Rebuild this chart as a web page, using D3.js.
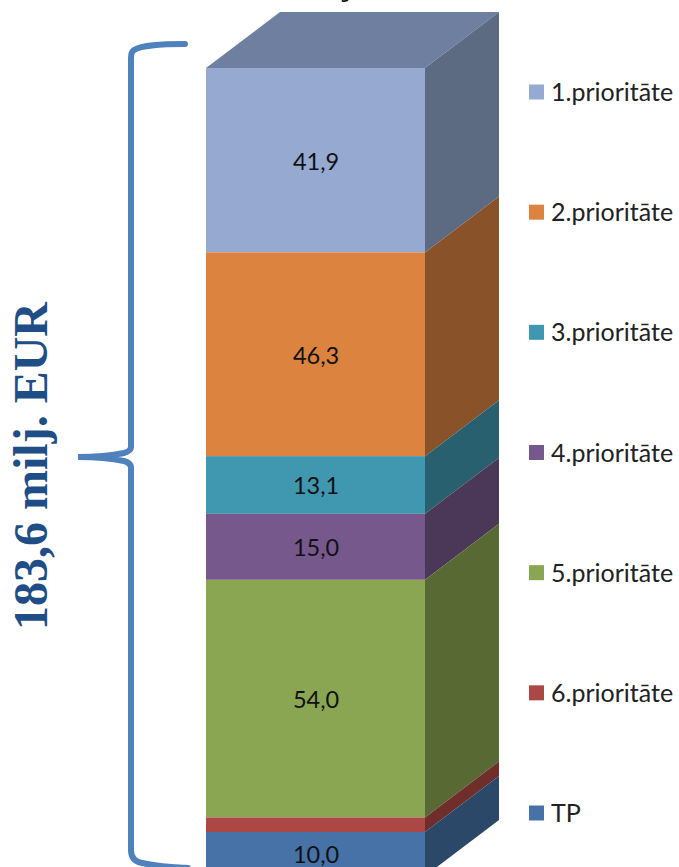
<!DOCTYPE html>
<html>
<head>
<meta charset="utf-8">
<style>
  html, body { margin: 0; padding: 0; background: #fff; overflow: hidden; }
  svg { display: block; }
</style>
</head>
<body>
<svg id="chart"></svg>
<script src="https://d3js.org/d3.v7.min.js"></script>
<script>
  const categories = ['1.prioritāte', '2.prioritāte', '3.prioritāte', '4.prioritāte', '5.prioritāte', '6.prioritāte', 'TP'];
  const values = [41.9, 46.3, 13.1, 15.0, 54.0, 3.3, 10.0];
  const labels = ['41,9', '46,3', '13,1', '15,0', '54,0', '', '10,0'];
  const frontColors = ['#95a9d1', '#db833f', '#4097b0', '#77588d', '#8aa652', '#ab4744', '#4672a8'];
  const sideColors = ['#5d6b82', '#8a5229', '#29606f', '#4b3859', '#586933', '#6f2e2c', '#2c4869'];
  const topColor = '#6f7f9f';
  const totalLabel = '183,6 milj. EUR';

  const width = 679, height = 867;
  const svg = d3.select('#chart').attr('width', width).attr('height', height);

  // front of the column
  const x = d3.scaleLinear().domain([0, 1]).range([206, 425]);
  const y = d3.scaleLinear().domain([0, d3.sum(values)]).range([68, 876]);
  // offset of the back edge
  const depthX = 74, depthY = -56;

  let sum = 0;
  const segments = values.map((v, i) => {
    const s = { i, y0: sum, y1: sum + v };
    sum += v;
    return s;
  });

  svg.append('path')
      .attr('fill', topColor)
      .attr('d', d3.line()([
        [x(0), y(0)], [x(1), y(0)],
        [x(1) + depthX, y(0) + depthY], [x(0) + depthX, y(0) + depthY]
      ]));

  svg.selectAll('path.side')
      .data(segments)
      .enter()
      .append('path')
      .attr('class', 'side')
      .attr('fill', d => sideColors[d.i])
      .attr('d', d => d3.line()([
        [x(1), y(d.y0)], [x(1) + depthX, y(d.y0) + depthY],
        [x(1) + depthX, y(d.y1) + depthY], [x(1), y(d.y1)]
      ]));

  svg.selectAll('rect.front')
      .data(segments)
      .enter()
      .append('rect')
      .attr('class', 'front')
      .attr('x', x(0))
      .attr('y', d => y(d.y0))
      .attr('width', x(1) - x(0))
      .attr('height', d => y(d.y1) - y(d.y0))
      .attr('fill', d => frontColors[d.i]);

  svg.selectAll('text.value')
      .data(segments)
      .enter()
      .append('text')
      .attr('class', 'value')
      .attr('x', (x(0) + x(1)) / 2 + 0.5)
      .attr('y', d => y((d.y0 + d.y1) / 2) + 1)
      .attr('dy', '0.36em')
      .attr('text-anchor', 'middle')
      .attr('font-family', 'Lato, sans-serif')
      .attr('font-size', 23.5)
      .attr('fill', '#111')
      .text(d => labels[d.i]);

  // legend
  const legendY = d3.scalePoint().domain(categories).range([92, 813]);
  const legend = svg.selectAll('g.legend')
      .data(categories)
      .enter()
      .append('g')
      .attr('class', 'legend')
      .attr('transform', d => `translate(529,${legendY(d)})`);

  legend.append('rect')
      .attr('y', -7.5)
      .attr('width', 15)
      .attr('height', 15)
      .attr('fill', (d, i) => frontColors[i]);

  legend.append('text')
      .attr('x', 22)
      .attr('dy', '0.36em')
      .attr('font-family', 'Lato, sans-serif')
      .attr('font-size', 25)
      .attr('fill', '#222')
      .text(d => d);

  // brace on the left
  svg.append('path')
      .attr('fill', 'none')
      .attr('stroke', '#4f81bd')
      .attr('stroke-width', 6)
      .attr('stroke-linecap', 'round')
      .attr('d', 'M185,44 C160,44 142,45 134,50 Q131,52 131,58 L131,447 Q131,451 124,453 Q105,457 78,457 Q105,457 124,461 Q131,463 131,468 L131,850 Q131,861 142,863 Q160,867 188,868');

  svg.append('text')
      .attr('transform', 'translate(47,630) rotate(-90)')
      .attr('font-family', '"Liberation Serif", serif')
      .attr('font-weight', 'bold')
      .attr('font-size', 48)
      .attr('fill', '#1f4e86')
      .text(totalLabel);

  // cut-off descender of the title above the column
  svg.append('text')
      .attr('x', 342)
      .attr('y', -4)
      .attr('font-family', '"Liberation Serif", serif')
      .attr('font-weight', 'bold')
      .attr('font-size', 28)
      .attr('fill', '#111')
      .text('j');
</script>
</body>
</html>
